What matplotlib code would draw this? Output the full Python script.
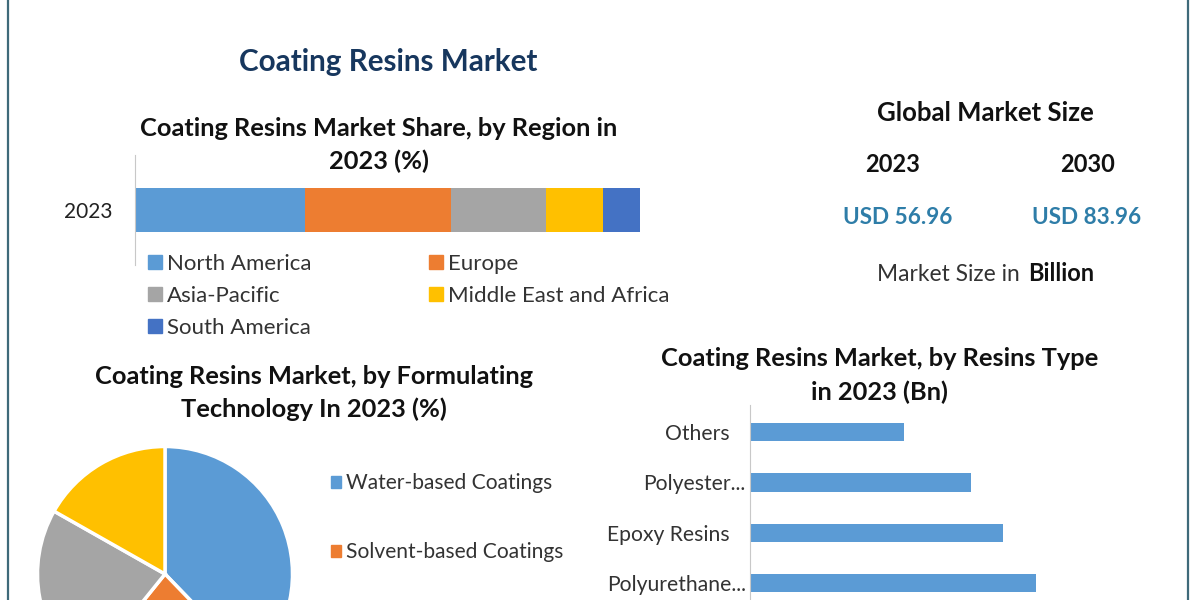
import matplotlib
matplotlib.use("Agg")
import matplotlib.pyplot as plt
from matplotlib.patches import Patch

plt.rcParams['font.family'] = ['Lato', 'DejaVu Sans']

W, H = 1200, 600

regions = ["North America", "Europe", "Asia-Pacific", "Middle East and Africa", "South America"]
region_share = [33.7, 28.9, 18.8, 11.3, 7.3]
region_colors = ["#5B9BD5", "#ED7D31", "#A5A5A5", "#FFC000", "#4472C4"]
region_year = "2023"

tech_values = [37.8, 23.0, 22.4, 16.8]
tech_colors = ["#5B9BD5", "#ED7D31", "#A5A5A5", "#FFC000"]
tech_legend = ["Water-based Coatings", "Solvent-based Coatings"]

resin_types = ["Others", "Polyester...", "Epoxy Resins", "Polyurethane..."]
resin_values = [6.16, 8.8, 10.08, 11.4]
resin_color = "#5B9BD5"

market_years = ["2023", "2030"]
market_sizes = ["USD 56.96", "USD 83.96"]


def px_axes(fig, x0, y0, x1, y1):
    return fig.add_axes([x0 / W, 1 - y1 / H, (x1 - x0) / W, (y1 - y0) / H])


def put(fig, x, y, s, **kw):
    kw.setdefault("ha", "center")
    kw.setdefault("va", "center")
    return fig.text(x / W, 1 - y / H, s, **kw)


fig = plt.figure(figsize=(12, 6), dpi=100, facecolor="white")

# frame lines
for xp in (7.5, 1187.5):
    fig.add_artist(plt.Line2D([xp / W, xp / W], [0, 1], color="#3f6a7a", lw=1.6))

# headings
HEAD = dict(fontsize=18.3, fontweight="bold", color="#111111")
put(fig, 388, 62, "Coating Resins Market", fontsize=21.3, fontweight="bold", color="#17375E")
put(fig, 379, 128, "Coating Resins Market Share, by Region in", **HEAD)
put(fig, 379, 161, "2023 (%)", **HEAD)
put(fig, 314, 376, "Coating Resins Market, by Formulating", **HEAD)
put(fig, 314, 409, "Technology In 2023 (%)", **HEAD)
put(fig, 880, 358, "Coating Resins Market, by Resins Type", **HEAD)
put(fig, 880, 392, "in 2023 (Bn)", **HEAD)

# market size panel
put(fig, 985.5, 113, "Global Market Size", fontsize=18.5, fontweight="bold", color="#111111")
for xp, yr in zip((893, 1088), market_years):
    put(fig, xp, 164, yr, fontsize=17, fontweight="bold", color="#111111")
for xp, yp, val in zip((898, 1087), (217, 217), market_sizes):
    put(fig, xp, yp, val, fontsize=16.2, fontweight="bold", color="#2E7DA8")
put(fig, 877, 281, "Market Size in ", fontsize=16.4, color="#333333", ha="left", va="baseline")
put(fig, 1028, 281, "Billion", fontsize=17, fontweight="bold", color="#111111", ha="left", va="baseline")

# stacked region bar
ax1 = px_axes(fig, 135, 155, 640, 265)
left = 0
for name, val, col in zip(regions, region_share, region_colors):
    ax1.barh([region_year], [val], left=left, height=0.405, color=col, label=name)
    left += val
ax1.set_xlim(0, sum(region_share))
ax1.set_ylim(-0.5, 0.5)
for s in ("top", "right", "bottom"):
    ax1.spines[s].set_visible(False)
ax1.spines["left"].set_color("#c8c8c8")
ax1.xaxis.set_visible(False)
ax1.tick_params(axis="y", length=0, pad=16, labelsize=15, labelcolor="#222222")
order = [0, 2, 4, 1, 3]
handles = [Patch(color=region_colors[i], label=regions[i]) for i in order]
fig.legend(handles=handles, loc="upper left", bbox_to_anchor=(148 / W, 1 - 254 / H), ncol=2,
           frameon=False, fontsize=16, handlelength=0.62, handleheight=0.62, handletextpad=0.22,
           labelspacing=0.53, columnspacing=5.3, borderpad=0, borderaxespad=0, labelcolor="#333333")

# pie (runs past the lower edge of the figure)
ax2 = px_axes(fig, 37.5, 446.5, 292.5, 701.5)
ax2.pie(tech_values, colors=tech_colors, startangle=90, counterclock=False, radius=1,
        wedgeprops=dict(edgecolor="white", linewidth=2.5))
ax2.set_xlim(-1, 1)
ax2.set_ylim(-1, 1)
leg_handles = [Patch(color=tech_colors[i], label=tech_legend[i]) for i in range(2)]
fig.legend(handles=leg_handles, loc="upper left", bbox_to_anchor=(331 / W, 1 - 473 / H),
           frameon=False, fontsize=15.1, handlelength=0.5, handleheight=0.5, handletextpad=0.2,
           labelspacing=2.36, borderpad=0, borderaxespad=0, labelcolor="#333333")

# resin type bars
ax3 = px_axes(fig, 750, 405, 1075, 600)
ypos = list(range(len(resin_types)))
ax3.barh(ypos, resin_values, height=0.36, color=resin_color)
ax3.set_xlim(0, 12.96)
ax3.set_ylim(3.33, -0.536)
ax3.set_yticks(ypos, resin_types)
for s in ("top", "right", "bottom"):
    ax3.spines[s].set_visible(False)
ax3.spines["left"].set_color("#c8c8c8")
ax3.xaxis.set_visible(False)
ax3.tick_params(axis="y", length=0, labelsize=15.2, labelcolor="#333333")
for tick, pad in zip(ax3.yaxis.get_major_ticks(), (15, 3, 15, 3)):
    tick.set_pad(pad)

fig.savefig("out.png", dpi=100, facecolor="white")
